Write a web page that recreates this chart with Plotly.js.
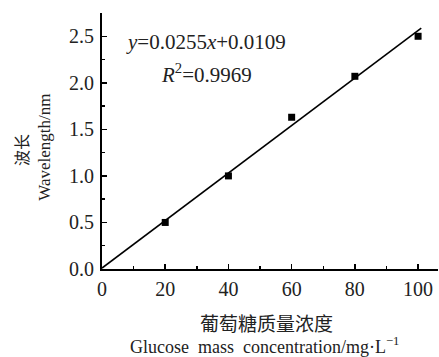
<!DOCTYPE html>
<html>
<head>
<meta charset="utf-8">
<script src="https://cdn.plot.ly/plotly-3.0.1.min.js"></script>
<style>html,body{margin:0;padding:0;background:#fff;}#chart{width:439px;height:357px;}</style>
</head>
<body>
<div id="chart"></div>
<script>
// Data
const concentration = [20, 40, 60, 80, 100];
const wavelength = [0.50, 1.00, 1.63, 2.07, 2.50];
// Linear fit y = slope*x + intercept, drawn over this x span
const fitCoef = [0.0255, 0.0109];
const fitSpan = [0, 101];
const xTickVals = [0, 20, 40, 60, 80, 100];
const yTickVals = [0.0, 0.5, 1.0, 1.5, 2.0, 2.5];
const yTickText = ['0.0', '0.5', '1.0', '1.5', '2.0', '2.5'];

const fitY = fitSpan.map(x => fitCoef[0] * x + fitCoef[1]);
const serif = 'Liberation Serif, Noto Sans CJK SC, serif';

const traces = [
  {x: fitSpan, y: fitY, mode: 'lines', line: {color: '#000', width: 1.6}, hoverinfo: 'skip', showlegend: false},
  {x: concentration, y: wavelength, mode: 'markers', marker: {symbol: 'square', size: 7, color: '#000'}, showlegend: false}
];

const axisCommon = {
  showline: true, linecolor: '#000', linewidth: 2, mirror: false,
  ticks: 'inside', ticklen: 5, tickwidth: 1.5, tickcolor: '#000',
  showgrid: false, zeroline: false,
  tickfont: {family: serif, size: 20, color: '#222'},
};

const layout = {
  width: 439, height: 357,
  margin: {l: 102, r: 1, t: 13, b: 88},
  paper_bgcolor: '#fff', plot_bgcolor: '#fff',
  xaxis: Object.assign({}, axisCommon, {
    range: [0, 106.3], tickmode: 'array', tickvals: xTickVals,
    minor: {dtick: 10, tick0: 0, ticks: 'inside', ticklen: 3, tickwidth: 1.5, tickcolor: '#000', showgrid: false},
    ticklabelstandoff: 1
  }),
  yaxis: Object.assign({}, axisCommon, {
    range: [0, 2.75], tickmode: 'array', tickvals: yTickVals, ticktext: yTickText,
    minor: {dtick: 0.25, tick0: 0, ticks: 'inside', ticklen: 3, tickwidth: 1.5, tickcolor: '#000', showgrid: false},
    ticklabelstandoff: 2
  }),
  annotations: [
    {xref: 'paper', yref: 'paper', x: 0.31, y: 0.885, xanchor: 'center', yanchor: 'middle', showarrow: false,
     text: '<i>y</i>=0.0255<i>x</i>+0.0109', font: {family: serif, size: 21, color: '#222'}},
    {xref: 'paper', yref: 'paper', x: 0.31, y: 0.765, xanchor: 'center', yanchor: 'middle', showarrow: false,
     text: '<i>R</i><sup>2</sup>=0.9969', font: {family: serif, size: 21, color: '#222'}},
    {xref: 'paper', yref: 'paper', x: -0.235, y: 0.465, xanchor: 'center', yanchor: 'middle', showarrow: false, textangle: -90,
     text: '波长', font: {family: serif, size: 16, color: '#222'}},
    {xref: 'paper', yref: 'paper', x: -0.17, y: 0.477, xanchor: 'center', yanchor: 'middle', showarrow: false, textangle: -90,
     text: 'Wavelength/nm', font: {family: serif, size: 17, color: '#222'}},
    {xref: 'paper', yref: 'paper', x: 0.49, y: -0.215, xanchor: 'center', yanchor: 'middle', showarrow: false, borderpad: 0,
     text: '葡萄糖质量浓度', font: {family: serif, size: 19, color: '#222'}},
    {xref: 'paper', yref: 'paper', x: 0.485, y: -0.346, xanchor: 'center', yanchor: 'bottom', showarrow: false, borderpad: 0,
     text: 'Glucose&nbsp; mass&nbsp; concentration/mg·L<sup>−1</sup>', font: {family: serif, size: 18, color: '#222'}}
  ]
};

Plotly.newPlot('chart', traces, layout, {displayModeBar: false, staticPlot: true});
</script>
</body>
</html>
